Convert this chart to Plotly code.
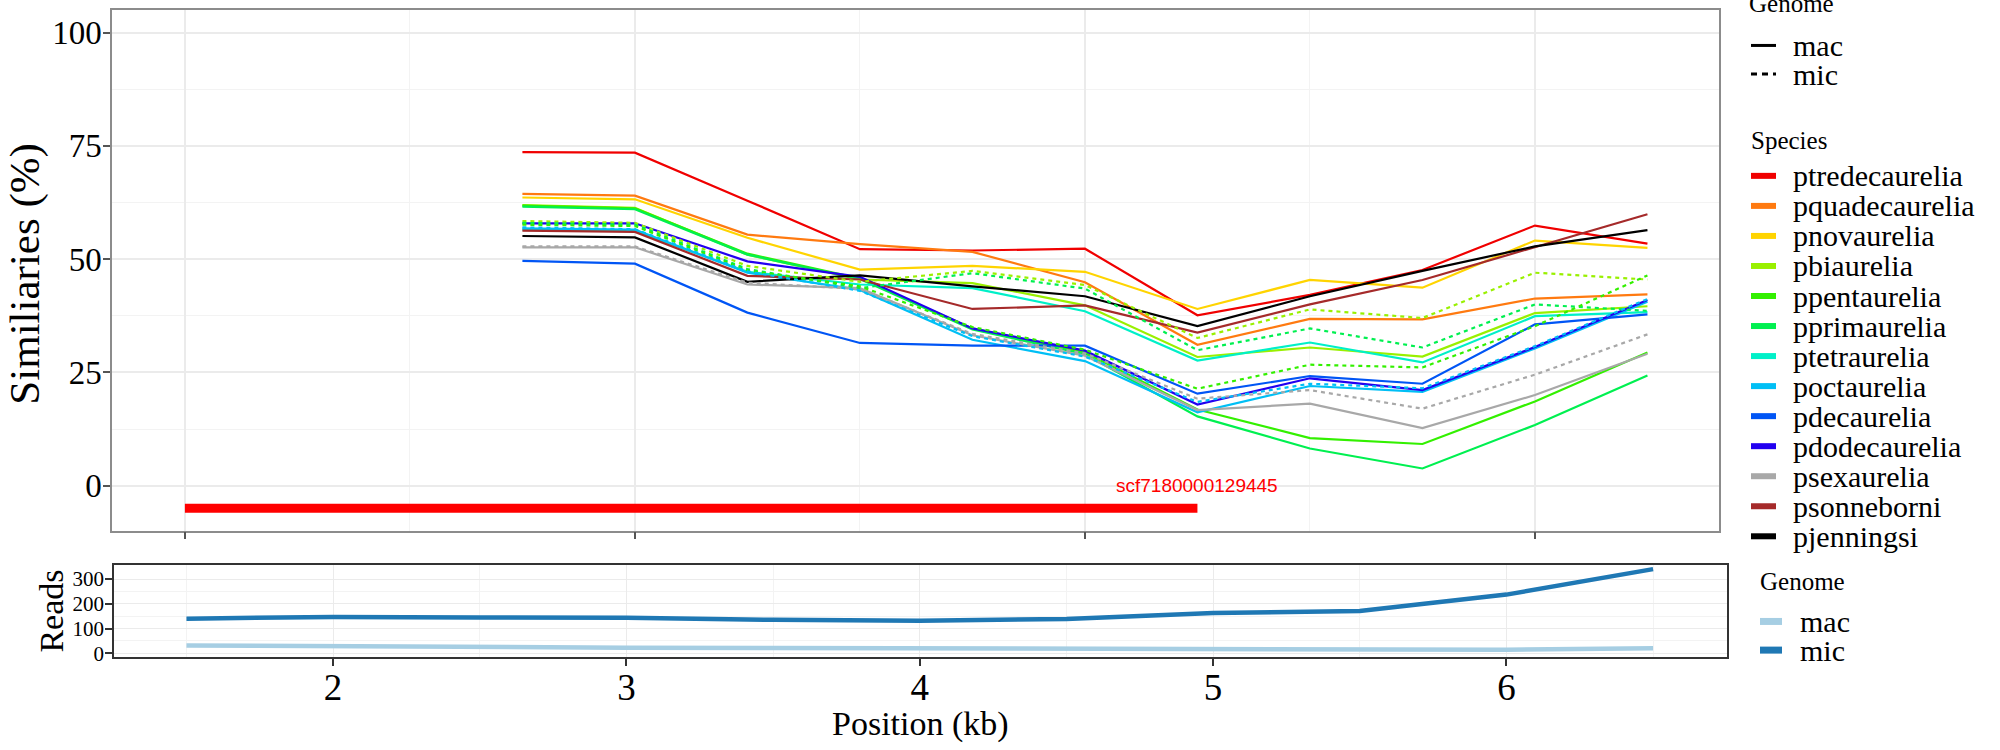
import plotly.graph_objects as go

W, H = 2000, 750

# ---------------- data ----------------
species = ["ptredecaurelia", "pquadecaurelia", "pnovaurelia", "pbiaurelia",
           "ppentaurelia", "pprimaurelia", "ptetraurelia", "poctaurelia",
           "pdecaurelia", "pdodecaurelia", "psexaurelia", "psonneborni",
           "pjenningsi"]
species_colors = ["#F00000", "#FF7A10", "#FFD400", "#99F000", "#33F000",
                  "#00F050", "#00F0C8", "#00BFF5", "#0055F5", "#2200F0",
                  "#A8A8A8", "#A52A2A", "#000000"]

top_x = [1.75, 2.00, 2.25, 2.50, 2.75, 3.00, 3.25, 3.50, 3.75, 4.00, 4.25]

mac_sim = {
    "ptredecaurelia": [73.6, 73.5, 62.9, 52.2, 51.9, 52.3, 37.6, 42.1, 47.6, 57.4, 53.4],
    "pquadecaurelia": [64.4, 64.0, 55.4, 53.3, 51.6, 44.9, 31.1, 36.8, 36.7, 41.3, 42.2],
    "pnovaurelia":    [63.6, 63.2, 54.7, 47.7, 48.5, 47.2, 39.0, 45.4, 43.7, 54.1, 52.5],
    "pbiaurelia":     [61.9, 61.3, 51.0, 45.5, 44.7, 39.8, 28.4, 30.5, 28.5, 38.1, 39.6],
    "ppentaurelia":   [61.8, 61.2, 51.2, 45.7, 34.7, 29.4, 16.8, 10.5, 9.2, 18.6, 29.4],
    "pprimaurelia":   [61.6, 61.0, 51.0, 45.6, 34.5, 29.0, 15.3, 8.2, 3.8, 13.4, 24.3],
    "ptetraurelia":   [56.5, 56.2, 47.2, 44.4, 43.6, 38.5, 27.6, 31.6, 27.2, 37.4, 38.3],
    "poctaurelia":    [56.8, 56.5, 47.0, 43.2, 32.2, 27.5, 16.2, 22.0, 20.7, 30.3, 40.6],
    "pdecaurelia":    [49.6, 49.0, 38.2, 31.5, 30.9, 30.9, 20.3, 24.2, 22.5, 35.6, 37.8],
    "pdodecaurelia":  [57.9, 57.9, 49.5, 46.1, 34.7, 29.8, 17.9, 23.7, 21.1, 30.6, 41.0],
    "psexaurelia":    [52.6, 52.6, 44.4, 43.6, 33.2, 28.7, 16.7, 18.1, 12.7, 20.0, 29.1],
    "psonneborni":    [56.3, 56.0, 46.3, 45.5, 39.0, 39.8, 33.8, 40.0, 45.4, 52.7, 59.9],
    "pjenningsi":     [55.1, 54.8, 45.0, 46.4, 44.0, 41.8, 35.2, 41.8, 47.4, 52.8, 56.4],
}
mic_sim = {
    "pbiaurelia":   [58.4, 58.0, 48.5, 45.0, 47.4, 44.3, 32.6, 38.9, 37.0, 47.0, 45.5],
    "pprimaurelia": [58.0, 57.6, 47.8, 43.6, 46.9, 43.5, 29.9, 34.7, 30.5, 40.0, 38.6],
    "ppentaurelia": [57.6, 57.3, 47.5, 44.0, 35.0, 30.0, 21.4, 26.7, 26.1, 35.2, 46.4],
    "psexaurelia":  [52.8, 52.8, 44.8, 43.4, 33.5, 29.2, 19.2, 21.1, 17.0, 24.5, 33.4],
    "poctaurelia":  [57.0, 56.6, 47.3, 43.0, 33.0, 28.5, 18.5, 22.5, 21.5, 30.8, 41.2],
}

scaffold_name = "scf7180000129445"
scaffold_start = 1.0
scaffold_end = 3.25
scaffold_y = -5

reads_x = [1.5, 2.0, 2.5, 3.0, 3.5, 4.0, 4.5, 5.0, 5.5, 6.0, 6.5]
reads_mac = [32, 28, 25, 22.5, 21.5, 21, 20.5, 20, 16, 14.5, 20]
reads_mic = [140, 147, 145, 144, 135, 131, 139, 163, 171, 237, 340]
genome_names = ["mac", "mic"]
reads_colors = ["#A6CEE3", "#1F78B4"]

top_xticks = [1, 2, 3, 4]
top_xminor = [1.5, 2.5, 3.5]
top_yticks = [0, 25, 50, 75, 100]
top_yminor = [12.5, 37.5, 62.5, 87.5]
bot_xticks = [2, 3, 4, 5, 6]
bot_xminor = [1.5, 2.5, 3.5, 4.5, 5.5, 6.5]
bot_yticks = [0, 100, 200, 300]
bot_yminor = [50, 150, 250]

# ---------------- helpers ----------------
def px(x):
    return x / W

def py(y):
    return 1 - y / H

SERIF = "Liberation Serif"
SANS = "Liberation Sans"
color_of = dict(zip(species, species_colors))

fig = go.Figure()

# top panel lines
for sp in species:
    fig.add_trace(go.Scatter(x=top_x, y=mac_sim[sp], mode="lines",
                             line=dict(color=color_of[sp], width=2.2),
                             xaxis="x", yaxis="y", showlegend=False))
for sp, vals in mic_sim.items():
    fig.add_trace(go.Scatter(x=top_x, y=vals, mode="lines",
                             line=dict(color=color_of[sp], width=2.2, dash="4px,4px"),
                             xaxis="x", yaxis="y", showlegend=False))

# scaffold bar
fig.add_trace(go.Scatter(x=[scaffold_start, scaffold_end], y=[scaffold_y, scaffold_y],
                         mode="lines", line=dict(color="#FF0000", width=9),
                         xaxis="x", yaxis="y", showlegend=False))

# reads panel
for g, vals, c in zip(genome_names, [reads_mac, reads_mic], reads_colors):
    fig.add_trace(go.Scatter(x=reads_x, y=vals, mode="lines",
                             line=dict(color=c, width=4.5),
                             xaxis="x2", yaxis="y2", showlegend=False))

grid_major = "#EBEBEB"
grid_minor = "#F3F3F3"

fig.update_layout(
    width=W, height=H, autosize=False,
    margin=dict(l=0, r=0, t=0, b=0),
    paper_bgcolor="white", plot_bgcolor="white",
    showlegend=False,
    xaxis=dict(domain=[px(112), px(1719)], range=[0.838, 4.409],
               tickvals=top_xticks, showticklabels=False,
               ticks="outside", ticklen=7, tickwidth=1.5, tickcolor="#555",
               showgrid=True, gridcolor=grid_major, gridwidth=1.6,
               minor=dict(tickvals=top_xminor, showgrid=True, gridcolor=grid_minor, gridwidth=0.9),
               showline=True, mirror=True, linecolor="#8C8C8C", linewidth=1.5,
               zeroline=False, anchor="y"),
    yaxis=dict(domain=[py(537), py(10)], range=[-9.9, 105],
               tickvals=top_yticks, ticks="outside", ticklen=7, tickwidth=1.5, tickcolor="#555",
               tickfont=dict(family=SERIF, size=33, color="black"),
               ticklabelstandoff=-5,
               showgrid=True, gridcolor=grid_major, gridwidth=1.6,
               minor=dict(tickvals=top_yminor, showgrid=True, gridcolor=grid_minor, gridwidth=0.9),
               showline=True, mirror=True, linecolor="#8C8C8C", linewidth=1.5,
               zeroline=False, anchor="x"),
    xaxis2=dict(domain=[px(114), px(1727)], range=[1.253, 6.752],
                tickvals=bot_xticks, ticks="outside", ticklen=7, tickwidth=1.5, tickcolor="#333",
                tickfont=dict(family=SERIF, size=37, color="black"),
                ticklabelstandoff=-10,
                showgrid=True, gridcolor=grid_major, gridwidth=1.4,
                minor=dict(tickvals=bot_xminor, showgrid=True, gridcolor=grid_minor, gridwidth=0.9),
                showline=True, mirror=True, linecolor="#333", linewidth=1.5,
                zeroline=False, anchor="y2"),
    yaxis2=dict(domain=[py(665), py(572)], range=[-15, 356],
                tickvals=bot_yticks, ticks="outside", ticklen=7, tickwidth=1.5, tickcolor="#333",
                tickfont=dict(family=SERIF, size=21, color="black"),
                ticklabelstandoff=-3,
                showgrid=True, gridcolor=grid_major, gridwidth=1.4,
                minor=dict(tickvals=bot_yminor, showgrid=True, gridcolor=grid_minor, gridwidth=0.9),
                showline=True, mirror=True, linecolor="#333", linewidth=1.5,
                zeroline=False, anchor="x2"),
)

ann = []
# axis titles
ann.append(dict(text="Similiaries (%)", x=px(25), y=py(277), xref="paper", yref="paper",
                textangle=-90, showarrow=False, xanchor="center", yanchor="middle",
                font=dict(family=SERIF, size=43, color="black")))
ann.append(dict(text="Reads", x=px(52), y=py(619), xref="paper", yref="paper",
                textangle=-90, showarrow=False, xanchor="center", yanchor="middle",
                font=dict(family=SERIF, size=34, color="black")))
ann.append(dict(text="Position (kb)", x=px(920), y=py(733), xref="paper", yref="paper",
                showarrow=False, xanchor="center", yanchor="middle",
                font=dict(family=SERIF, size=34, color="black")))
# scaffold label
ann.append(dict(text=scaffold_name, x=scaffold_end, y=0, xref="x", yref="y",
                showarrow=False, xanchor="center", yanchor="middle",
                font=dict(family=SANS, size=19, color="#FF0000")))

shapes = []
# ---- top legend: Genome ----
ann.append(dict(text="Genome", x=px(1747), y=py(4), xref="paper", yref="paper",
                showarrow=False, xanchor="left", yanchor="middle",
                font=dict(family=SERIF, size=25, color="black")))
for i, g in enumerate(genome_names):
    yy = 46 + 29 * i
    shapes.append(dict(type="line", xref="paper", yref="paper",
                       x0=px(1751), x1=px(1776), y0=py(yy), y1=py(yy),
                       line=dict(color="black", width=3, dash="solid" if g == "mac" else "6px,5px")))
    ann.append(dict(text=g, x=px(1791), y=py(yy), xref="paper", yref="paper",
                    showarrow=False, xanchor="left", yanchor="middle",
                    font=dict(family=SERIF, size=30, color="black")))
# ---- top legend: Species ----
ann.append(dict(text="Species", x=px(1749), y=py(142), xref="paper", yref="paper",
                showarrow=False, xanchor="left", yanchor="middle",
                font=dict(family=SERIF, size=25, color="black")))
for i, (sp, c) in enumerate(zip(species, species_colors)):
    yy = 178 + 30.4 * i
    shapes.append(dict(type="line", xref="paper", yref="paper",
                       x0=px(1751), x1=px(1776), y0=py(yy), y1=py(yy),
                       line=dict(color=c, width=6)))
    ann.append(dict(text=sp, x=px(1791), y=py(yy), xref="paper", yref="paper",
                    showarrow=False, xanchor="left", yanchor="middle",
                    font=dict(family=SERIF, size=30, color="black")))
# ---- bottom legend: Genome ----
ann.append(dict(text="Genome", x=px(1758), y=py(589), xref="paper", yref="paper",
                showarrow=False, xanchor="left", yanchor="middle",
                font=dict(family=SERIF, size=25, color="black")))
for i, (g, c) in enumerate(zip(genome_names, reads_colors)):
    yy = 629 + 29 * i
    shapes.append(dict(type="line", xref="paper", yref="paper",
                       x0=px(1760), x1=px(1782), y0=py(yy), y1=py(yy),
                       line=dict(color=c, width=7)))
    ann.append(dict(text=g, x=px(1798), y=py(yy), xref="paper", yref="paper",
                    showarrow=False, xanchor="left", yanchor="middle",
                    font=dict(family=SERIF, size=30, color="black")))

fig.update_layout(annotations=ann, shapes=shapes)
fig.write_html("out.html", config={"displayModeBar": False},
               post_script="document.body.style.margin='0';document.body.style.overflow='hidden';")
